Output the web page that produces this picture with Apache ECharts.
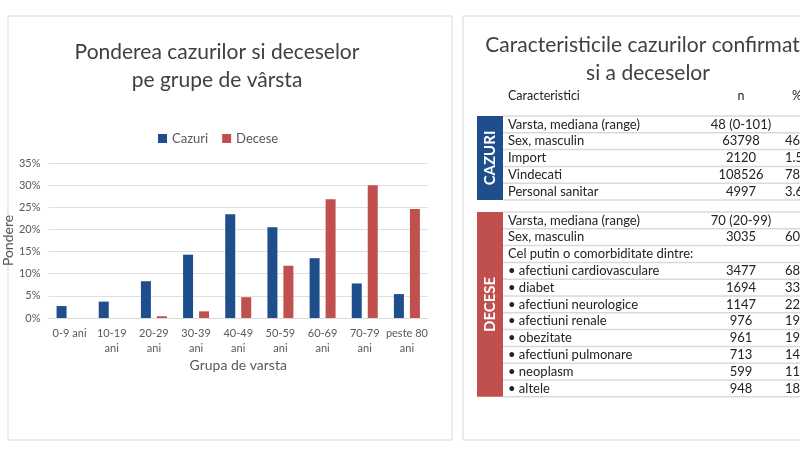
<!DOCTYPE html><html><head><meta charset="utf-8">
<script src="https://cdn.jsdelivr.net/npm/echarts@6/dist/echarts.min.js"></script>
<style>html,body{margin:0;background:#fff}#c{width:800px;height:450px}</style></head><body><div id="c"></div>
<script>
const categories=['0-9 ani','10-19\nani','20-29\nani','30-39\nani','40-49\nani','50-59\nani','60-69\nani','70-79\nani','peste 80\nani'];
const cazuri=[2.7,3.7,8.3,14.3,23.4,20.5,13.5,7.8,5.4];
const decese=[0,0,0.4,1.5,4.7,11.8,26.8,30.0,24.6];
const yTicks=[0,5,10,15,20,25,30,35];
const cazRows=[['Varsta, mediana (range)','48 (0-101)',''],['Sex, masculin','63798','46.'],['Import','2120','1.5'],['Vindecati','108526','78.'],['Personal sanitar','4997','3.6']];
const decRows=[['Varsta, mediana (range)','70 (20-99)',''],['Sex, masculin','3035','60.'],['Cel putin o comorbiditate dintre:','',''],['• afectiuni cardiovasculare','3477','68.'],['• diabet','1694','33.'],['• afectiuni neurologice','1147','22.'],['• afectiuni renale','976','19.'],['• obezitate','961','19.'],['• afectiuni pulmonare','713','14.'],['• neoplasm','599','11.'],['• altele','948','18.']];
const F='Lato, "Open Sans", sans-serif', TC='#404040';
const g=[];
g.push({type:'rect',shape:{x:8,y:16,width:444,height:424},style:{fill:'none',stroke:'#d9d9d9',lineWidth:1}});
g.push({type:'rect',shape:{x:463,y:16,width:345,height:424},style:{fill:'none',stroke:'#d9d9d9',lineWidth:1}});
g.push({type:'text',x:648,y:45,style:{text:'Caracteristicile cazurilor confirmate',font:'21px '+F,fill:TC,align:'center',verticalAlign:'middle'}});
g.push({type:'text',x:648,y:73,style:{text:'si a deceselor',font:'21px '+F,fill:TC,align:'center',verticalAlign:'middle'}});
g.push({type:'text',x:508,y:96,style:{text:'Caracteristici',font:'12.5px '+F,fill:'#222',verticalAlign:'middle'}});
g.push({type:'text',x:741,y:96,style:{text:'n',font:'12.5px '+F,fill:'#222',align:'center',verticalAlign:'middle'}});
g.push({type:'text',x:792,y:96,style:{text:'%',font:'12.5px '+F,fill:'#222',verticalAlign:'middle'}});
function block(rows,y0,rh,color,label){
  const h=rows.length*rh;
  g.push({type:'rect',shape:{x:477,y:y0,width:26,height:h},style:{fill:color}});
  g.push({type:'text',x:490,y:y0+h/2,rotation:Math.PI/2,style:{text:label,font:'bold 15px '+F,fill:'#fff',align:'center',verticalAlign:'middle'}});
  rows.forEach((r,i)=>{const y=y0+i*rh;
    g.push({type:'line',shape:{x1:503,y1:y,x2:800,y2:y},style:{stroke:'#d9d9d9',lineWidth:1.5}});
    g.push({type:'text',x:508,y:y+rh/2,style:{text:r[0],font:'13px '+F,fill:'#222',verticalAlign:'middle'}});
    g.push({type:'text',x:741,y:y+rh/2,style:{text:r[1],font:'13px '+F,fill:'#222',align:'center',verticalAlign:'middle'}});
    g.push({type:'text',x:785,y:y+rh/2,style:{text:r[2],font:'13px '+F,fill:'#222',verticalAlign:'middle'}});
  });
  g.push({type:'line',shape:{x1:503,y1:y0+h,x2:800,y2:y0+h},style:{stroke:'#d9d9d9',lineWidth:1.5}});
}
block(cazRows,116,16.8,'#1f4e8c','CAZURI');
block(decRows,212,16.8,'#c0504d','DECESE');
const chart=echarts.init(document.getElementById('c'));
chart.setOption({
  animation:false,
  title:{text:'Ponderea cazurilor si deceselor\npe grupe de vârsta',left:212,top:33,textAlign:'center',textStyle:{fontFamily:F,fontSize:21,fontWeight:'normal',color:TC,lineHeight:28}},
  legend:{top:127,left:153,itemWidth:9,itemHeight:9,icon:'rect',itemGap:14,textStyle:{fontFamily:F,fontSize:13,color:'#595959'}},
  grid:{left:48,right:372,top:163,bottom:132},
  xAxis:{type:'category',data:categories,name:'Grupa de varsta',nameLocation:'middle',nameGap:40,nameTextStyle:{fontFamily:F,fontSize:14,color:'#595959'},axisTick:{show:false},axisLine:{lineStyle:{color:'#d9d9d9'}},axisLabel:{fontFamily:F,fontSize:11,color:'#595959',interval:0,lineHeight:15}},
  yAxis:{type:'value',min:0,max:35,interval:5,name:'Pondere',nameLocation:'middle',nameGap:30,nameTextStyle:{fontFamily:F,fontSize:14,color:'#595959'},axisLabel:{formatter:v=>yTicks.includes(v)?v+'%':'',fontFamily:F,fontSize:11,color:'#595959'},splitLine:{lineStyle:{color:'#e0e0e0'}}},
  series:[
    {name:'Cazuri',type:'bar',data:cazuri,barWidth:10,barGap:'60%',itemStyle:{color:'#1f4e8c'}},
    {name:'Decese',type:'bar',data:decese,barWidth:10,itemStyle:{color:'#c0504d'}}
  ],
  graphic:g
});
</script></body></html>
